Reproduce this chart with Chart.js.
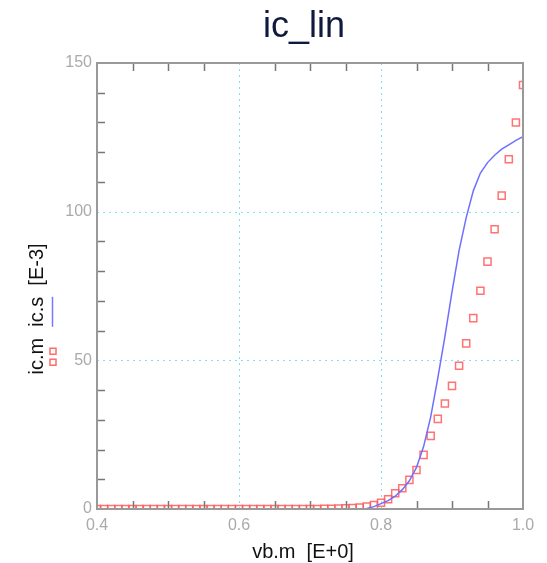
<!DOCTYPE html>
<html>
<head>
<meta charset="utf-8">
<script src="https://cdn.jsdelivr.net/npm/chart.js@4/dist/chart.umd.min.js"></script>
<style>
html,body{margin:0;padding:0;background:#fff;}
#wrap{width:547px;height:563px;}
</style>
</head>
<body>
<div id="wrap"><canvas id="c" width="547" height="563"></canvas></div>
<script>
// ---- data ----
const vb = [0.40,0.41,0.42,0.43,0.44,0.45,0.46,0.47,0.48,0.49,
            0.50,0.51,0.52,0.53,0.54,0.55,0.56,0.57,0.58,0.59,
            0.60,0.61,0.62,0.63,0.64,0.65,0.66,0.67,0.68,0.69,
            0.70,0.71,0.72,0.73,0.74,0.75,0.76,0.77,0.78,0.79,
            0.80,0.81,0.82,0.83,0.84,0.85,0.86,0.87,0.88,0.89,
            0.90,0.91,0.92,0.93,0.94,0.95,0.96,0.97,0.98,0.99,1.00];
// measured ic.m [E-3]
const icMeasured = [0,0,0,0,0,0,0,0,0,0,
                    0,0,0,0,0,0,0,0,0,0,
                    0,0,0,0,0,0,0,0,0,0,
                    0,0,0.05,0.1,0.15,0.2,0.3,0.5,0.8,1.3,
                    2.1,3.3,5.3,7.0,9.8,13.1,18.2,24.6,30.3,35.5,
                    41.4,48.2,55.7,64.2,73.4,83.2,94.1,105.4,117.6,130.0,142.6];
// simulated ic.s [E-3]
const icSimulated = [0,0,0,0,0,0,0,0,0,0,
                     0,0,0,0,0,0,0,0,0,0,
                     0,0,0,0,0,0,0,0,0,0,
                     0,0,0,0,0,0,0.05,0.1,0.2,0.8,
                     1.8,2.8,4.3,6.5,9.5,14,21,31,44,58,
                     73,87,98,107,113,116.5,119,121,122.5,124,125.2];
const xMajorTicks = [0.4,0.6,0.8,1.0];
const yMajorTicks = [0,50,100,150];
const titleText = 'ic_lin';
const xTitle = 'vb.m  [E+0]';
const yParts = ['ic.m', 'ic.s', '[E-3]'];

const FONT = '"Liberation Sans", Arial, Helvetica, sans-serif';

const pts = (xs, ys) => xs.map((x, i) => ({x: x, y: ys[i]}));

const decor = {
  id: 'decor',
  beforeDatasetsDraw(chart) {
    const {ctx, chartArea: a, scales: {x, y}} = chart;
    ctx.save();
    ctx.strokeStyle = '#7fdff0';
    ctx.lineWidth = 1;
    ctx.setLineDash([2, 4]);
    xMajorTicks.forEach(v => {
      if (v <= x.min || v >= x.max) return;
      const px = Math.round(x.getPixelForValue(v)) + 0.5;
      ctx.beginPath(); ctx.moveTo(px, a.top); ctx.lineTo(px, a.bottom); ctx.stroke();
    });
    yMajorTicks.forEach(v => {
      if (v <= y.min || v >= y.max) return;
      const py = Math.round(y.getPixelForValue(v)) + 0.5;
      ctx.beginPath(); ctx.moveTo(a.left, py); ctx.lineTo(a.right, py); ctx.stroke();
    });
    ctx.restore();
  },
  afterDatasetsDraw(chart) {
    const {ctx, chartArea: a, scales: {x, y}} = chart;
    ctx.save();
    // minor ticks
    ctx.strokeStyle = '#777';
    ctx.lineWidth = 1.5;
    ctx.setLineDash([]);
    x.ticks.forEach(t => {
      if (xMajorTicks.some(m => Math.abs(m - t.value) < 1e-6)) return;
      const px = Math.round(x.getPixelForValue(t.value)) + 0.5;
      ctx.beginPath(); ctx.moveTo(px, a.top); ctx.lineTo(px, a.top + 8); ctx.stroke();
      ctx.beginPath(); ctx.moveTo(px, a.bottom); ctx.lineTo(px, a.bottom - 8); ctx.stroke();
    });
    y.ticks.forEach(t => {
      if (yMajorTicks.some(m => Math.abs(m - t.value) < 1e-6)) return;
      const py = Math.round(y.getPixelForValue(t.value)) + 0.5;
      ctx.beginPath(); ctx.moveTo(a.left, py); ctx.lineTo(a.left + 8, py); ctx.stroke();
    });
    // frame
    ctx.strokeStyle = '#999';
    ctx.lineWidth = 2;
    ctx.strokeRect(a.left, a.top, a.right - a.left, a.bottom - a.top);

    // title
    ctx.fillStyle = '#0f1a3c';
    ctx.font = '36px ' + FONT;
    ctx.textAlign = 'center';
    ctx.textBaseline = 'alphabetic';
    ctx.fillText(titleText, 304, 37);

    // x title
    ctx.fillStyle = '#111';
    ctx.font = '20px ' + FONT;
    ctx.textBaseline = 'middle';
    ctx.fillText(xTitle, 303, 552);

    // y title with legend glyphs
    const gap = ctx.measureText('  ').width;
    const widths = yParts.map(p => ctx.measureText(p).width);
    const total = widths.reduce((s, w) => s + w, 0) + gap * (yParts.length - 1);
    const cx = 37, cy = 309;
    ctx.translate(cx, cy);
    ctx.rotate(-Math.PI / 2);
    ctx.textAlign = 'left';
    let rx = -total / 2;
    const centers = [];
    yParts.forEach((p, i) => {
      ctx.fillText(p, rx, 0);
      centers.push(rx + widths[i] / 2);
      rx += widths[i] + gap;
    });
    // red squares under ic.m
    ctx.strokeStyle = '#ff6b6b';
    ctx.lineWidth = 1.5;
    ctx.strokeRect(centers[0] - 9, 13, 6, 6);
    ctx.strokeRect(centers[0] + 2, 13, 6, 6);
    // blue line under ic.s
    ctx.strokeStyle = '#7777ff';
    ctx.lineWidth = 1.5;
    ctx.beginPath();
    ctx.moveTo(centers[1] - widths[1] / 2, 15.5);
    ctx.lineTo(centers[1] + widths[1] / 2, 15.5);
    ctx.stroke();
    ctx.restore();
  }
};

new Chart(document.getElementById('c'), {
  type: 'scatter',
  data: {
    datasets: [
      {
        label: 'ic.s',
        data: pts(vb, icSimulated),
        showLine: true,
        borderColor: '#6f6fff',
        borderWidth: 1.5,
        pointRadius: 0,
        tension: 0,
        clip: 0
      },
      {
        label: 'ic.m',
        data: pts(vb, icMeasured),
        showLine: false,
        pointStyle: 'rect',
        pointRadius: 5,
        pointBorderWidth: 1.5,
        pointBorderColor: 'rgba(255,90,90,0.85)',
        pointBackgroundColor: 'rgba(0,0,0,0)',
        clip: 0
      }
    ]
  },
  options: {
    responsive: false,
    animation: false,
    layout: {padding: {left: 0, right: 24, top: 63, bottom: 0}},
    plugins: {legend: {display: false}, tooltip: {enabled: false}, title: {display: false}},
    scales: {
      x: {
        type: 'linear',
        min: 0.4, max: 1.0,
        afterFit: s => { s.height = 54; },
        grid: {display: false, drawTicks: false},
        border: {display: false},
        ticks: {
          stepSize: 0.05,
          padding: 7,
          color: '#aaa',
          font: {family: FONT, size: 16},
          maxRotation: 0,
          autoSkip: false,
          callback: v => xMajorTicks.some(m => Math.abs(m - v) < 1e-6) ? Number(v).toFixed(1) : ''
        }
      },
      y: {
        type: 'linear',
        min: 0, max: 150,
        afterFit: s => { s.width = 97; },
        grid: {display: false, drawTicks: false},
        border: {display: false},
        ticks: {
          stepSize: 10,
          padding: 5,
          color: '#aaa',
          font: {family: FONT, size: 16},
          autoSkip: false,
          callback: v => yMajorTicks.includes(v) ? String(v) : ''
        }
      }
    }
  },
  plugins: [decor]
});
</script>
</body>
</html>
